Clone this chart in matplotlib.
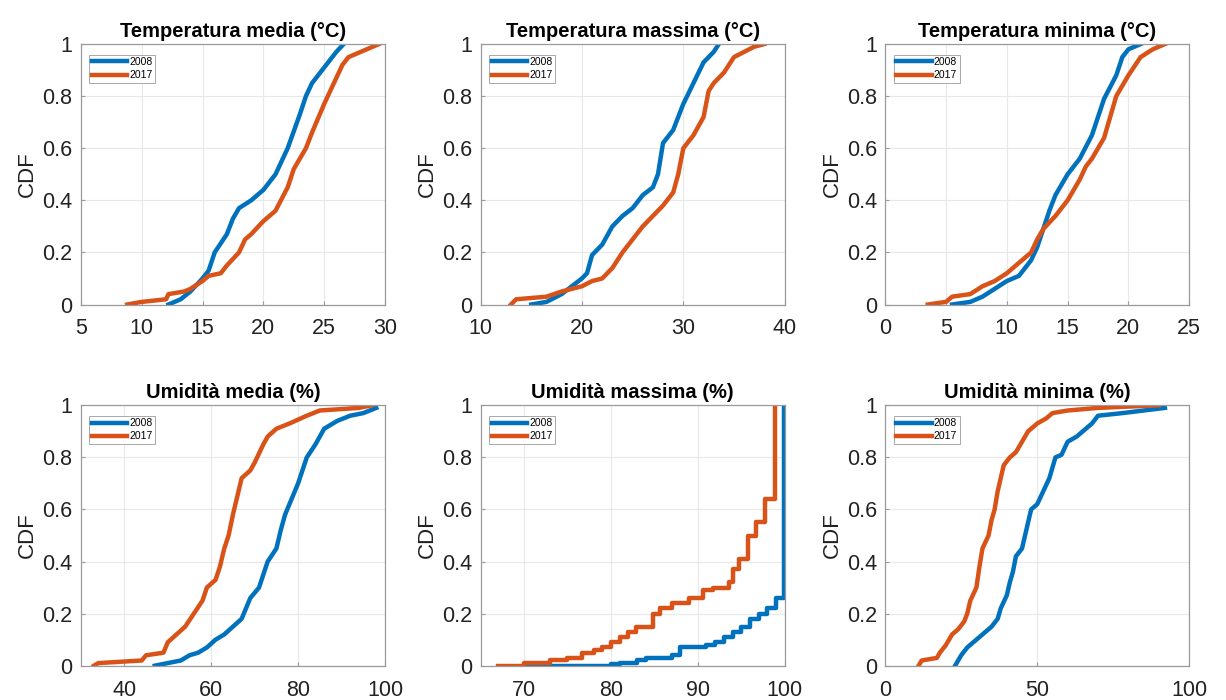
import matplotlib
matplotlib.use("Agg")
import matplotlib.pyplot as plt
from matplotlib.ticker import FuncFormatter

plt.rcParams['font.family'] = ['Liberation Sans', 'DejaVu Sans']

BLUE = '#0072BD'
ORANGE = '#D95319'

titles = ['Temperatura media (°C)', 'Temperatura massima (°C)', 'Temperatura minima (°C)',
          'Umidità media (%)', 'Umidità massima (%)', 'Umidità minima (%)']
legend_labels = ['2008', '2017']

# Temperatura media
tmed_2008_x = [12.2, 13.2, 14, 15, 15.5, 16, 17, 17.5, 18, 19, 20, 21, 21.5, 22, 23, 23.5, 24, 25, 26, 26.6]
tmed_2008_y = [0.0, 0.02, 0.05, 0.10, 0.13, 0.20, 0.27, 0.33, 0.37, 0.40, 0.44, 0.50, 0.55, 0.60, 0.73, 0.80, 0.85, 0.91, 0.97, 1.0]
tmed_2017_x = [8.8, 10, 12, 12.2, 13.5, 14, 15, 15.5, 16.5, 17, 18, 18.5, 19, 20, 21, 22, 22.5, 23.5, 24, 25, 26, 26.5, 27, 28, 29, 29.5]
tmed_2017_y = [0.0, 0.01, 0.02, 0.04, 0.05, 0.06, 0.09, 0.11, 0.12, 0.15, 0.20, 0.25, 0.27, 0.32, 0.36, 0.45, 0.52, 0.60, 0.66, 0.77, 0.87, 0.92, 0.95, 0.97, 0.99, 1.0]

# Temperatura massima
tmax_2008_x = [15, 16.5, 17, 18, 19, 20, 20.5, 21, 22, 23, 24, 25, 26, 27, 27.5, 28, 29, 30, 31, 32, 33, 33.5]
tmax_2008_y = [0.0, 0.01, 0.02, 0.04, 0.07, 0.10, 0.12, 0.19, 0.23, 0.30, 0.34, 0.37, 0.42, 0.45, 0.50, 0.62, 0.67, 0.77, 0.85, 0.93, 0.97, 1.0]
tmax_2017_x = [13, 13.5, 16.5, 18, 19, 20, 21, 22, 23, 24, 25, 26, 27, 28, 29, 29.5, 30, 31, 32, 32.5, 33, 34, 35, 36, 37, 38]
tmax_2017_y = [0.0, 0.02, 0.03, 0.05, 0.06, 0.07, 0.09, 0.10, 0.14, 0.20, 0.25, 0.30, 0.34, 0.38, 0.43, 0.50, 0.60, 0.65, 0.72, 0.82, 0.85, 0.89, 0.95, 0.97, 0.99, 1.0]

# Temperatura minima
tmin_2008_x = [5.5, 7, 8, 9, 10, 11, 12, 12.5, 13, 13.5, 14, 15, 16, 17, 17.5, 18, 19, 19.5, 20, 21]
tmin_2008_y = [0.0, 0.01, 0.03, 0.06, 0.09, 0.11, 0.17, 0.22, 0.29, 0.36, 0.42, 0.50, 0.56, 0.65, 0.72, 0.79, 0.88, 0.95, 0.98, 1.0]
tmin_2017_x = [3.5, 5, 5.5, 7, 8, 9, 10, 11, 12, 12.5, 13, 14, 15, 16, 16.5, 17, 18, 18.5, 19, 20, 21, 22, 23]
tmin_2017_y = [0.0, 0.01, 0.03, 0.04, 0.07, 0.09, 0.12, 0.16, 0.20, 0.25, 0.29, 0.34, 0.40, 0.48, 0.53, 0.56, 0.64, 0.72, 0.80, 0.88, 0.95, 0.98, 1.0]

# Umidita media
umed_2008_x = [47, 50, 53, 55, 57, 59, 61, 63, 65, 67, 68, 69, 71, 72, 73, 75, 76, 77, 78, 79, 80, 81, 82, 84, 85, 86, 89, 92, 95, 98]
umed_2008_y = [0.0, 0.01, 0.02, 0.04, 0.05, 0.07, 0.10, 0.12, 0.15, 0.18, 0.22, 0.26, 0.30, 0.35, 0.40, 0.45, 0.52, 0.58, 0.62, 0.66, 0.70, 0.75, 0.80, 0.85, 0.88, 0.91, 0.94, 0.96, 0.97, 0.99]
umed_2017_x = [33, 34, 44, 45, 49, 50, 52, 54, 56, 58, 59, 61, 62, 63, 64, 65, 66, 67, 69, 70, 72, 73, 75, 78, 82, 85, 94, 97]
umed_2017_y = [0.0, 0.01, 0.02, 0.04, 0.05, 0.09, 0.12, 0.15, 0.20, 0.25, 0.30, 0.33, 0.38, 0.45, 0.50, 0.58, 0.65, 0.72, 0.75, 0.78, 0.85, 0.88, 0.91, 0.93, 0.96, 0.98, 0.99, 1.0]

# Umidita massima
umax_2008_x = [70, 80, 81, 83, 84, 87, 88, 91, 92, 93, 94, 95, 96, 97, 98, 99, 99.9]
umax_2008_y = [0.0, 0.005, 0.01, 0.02, 0.03, 0.04, 0.07, 0.08, 0.09, 0.11, 0.13, 0.15, 0.18, 0.20, 0.22, 0.26, 1.0]
umax_2017_x = [67, 70, 73, 75, 76.7, 78, 79, 80, 81, 82, 82.9, 84.8, 85.6, 87, 89, 90.6, 91.7, 93.6, 94, 94.8, 95.8, 96.7, 97.7, 98.9]
umax_2017_y = [0.0, 0.01, 0.02, 0.03, 0.05, 0.06, 0.07, 0.09, 0.11, 0.13, 0.15, 0.20, 0.22, 0.24, 0.26, 0.29, 0.30, 0.32, 0.37, 0.41, 0.50, 0.55, 0.64, 1.0]

# Umidita minima
umin_2008_x = [23, 24, 25, 27, 30, 33, 35, 37, 38, 40, 41, 42, 43, 45, 46, 47, 48, 50, 52, 54, 55, 56, 58, 60, 63, 66, 68, 70, 78, 85, 92]
umin_2008_y = [0.0, 0.02, 0.04, 0.07, 0.10, 0.13, 0.15, 0.18, 0.22, 0.27, 0.32, 0.36, 0.42, 0.45, 0.50, 0.55, 0.60, 0.62, 0.67, 0.72, 0.76, 0.80, 0.81, 0.86, 0.88, 0.91, 0.93, 0.96, 0.97, 0.98, 0.99]
umin_2017_x = [11, 12, 17, 18, 20, 22, 24, 26, 27, 28, 30, 31, 32, 34, 35, 36, 37, 38, 39, 41, 43, 45, 47, 50, 53, 55, 60, 70, 90]
umin_2017_y = [0.0, 0.02, 0.03, 0.05, 0.08, 0.12, 0.14, 0.17, 0.20, 0.25, 0.30, 0.38, 0.45, 0.50, 0.56, 0.60, 0.67, 0.72, 0.77, 0.80, 0.82, 0.86, 0.90, 0.93, 0.95, 0.97, 0.98, 0.99, 1.0]

series = [
    (tmed_2008_x, tmed_2008_y, tmed_2017_x, tmed_2017_y),
    (tmax_2008_x, tmax_2008_y, tmax_2017_x, tmax_2017_y),
    (tmin_2008_x, tmin_2008_y, tmin_2017_x, tmin_2017_y),
    (umed_2008_x, umed_2008_y, umed_2017_x, umed_2017_y),
    (umax_2008_x, umax_2008_y, umax_2017_x, umax_2017_y),
    (umin_2008_x, umin_2008_y, umin_2017_x, umin_2017_y),
]
stepped = [False, False, False, False, True, False]
xlims = [(5, 30), (10, 40), (0, 25), (30, 100), (65, 100), (0, 100)]
xticks = [[5, 10, 15, 20, 25, 30], [10, 20, 30, 40], [0, 5, 10, 15, 20, 25],
          [40, 60, 80, 100], [70, 80, 90, 100], [0, 50, 100]]
yticks = [0, 0.2, 0.4, 0.6, 0.8, 1.0]

fig = plt.figure(figsize=(12.26, 7.0), dpi=100)
lefts = [0.066, 0.392, 0.722]
bottoms = [0.565, 0.049]
w, h = 0.248, 0.372

for i in range(6):
    r, c = divmod(i, 3)
    ax = fig.add_axes([lefts[c], bottoms[r], w, h])
    x08, y08, x17, y17 = series[i]
    if stepped[i]:
        ax.step(x08, y08, where='post', color=BLUE, lw=3.2, label=legend_labels[0])
        ax.step(x17, y17, where='post', color=ORANGE, lw=3.2, label=legend_labels[1])
    else:
        ax.plot(x08, y08, color=BLUE, lw=3.2, label=legend_labels[0])
        ax.plot(x17, y17, color=ORANGE, lw=3.2, label=legend_labels[1])
    ax.set_xlim(*xlims[i])
    ax.set_ylim(0, 1)
    ax.set_xticks(xticks[i])
    ax.set_yticks(yticks)
    ax.yaxis.set_major_formatter(FuncFormatter(lambda v, p: '%g' % v))
    ax.grid(True, color='#e8e8e8', lw=0.8)
    ax.set_axisbelow(True)
    for s in ax.spines.values():
        s.set_color('#9a9a9a')
        s.set_linewidth(0.9)
    ax.tick_params(direction='in', length=3, color='#9a9a9a', labelsize=15.5,
                   labelcolor='#222222', top=False, right=False)
    ax.tick_params(axis='x', pad=10)
    ax.tick_params(axis='y', pad=6)
    ax.set_title(titles[i], fontsize=14.5, fontweight='bold', pad=5)
    ax.set_ylabel('CDF', fontsize=16, color='#222222', labelpad=3)
    leg = ax.legend(loc='upper left', fontsize=7.5, handlelength=3.4, handletextpad=0.2,
                    borderpad=0.25, labelspacing=0.3, borderaxespad=0.0, fancybox=False,
                    framealpha=1, edgecolor='#9a9a9a', bbox_to_anchor=(0.028, 0.96))
    leg.get_frame().set_linewidth(0.6)

fig.savefig('out.png', dpi=100)
